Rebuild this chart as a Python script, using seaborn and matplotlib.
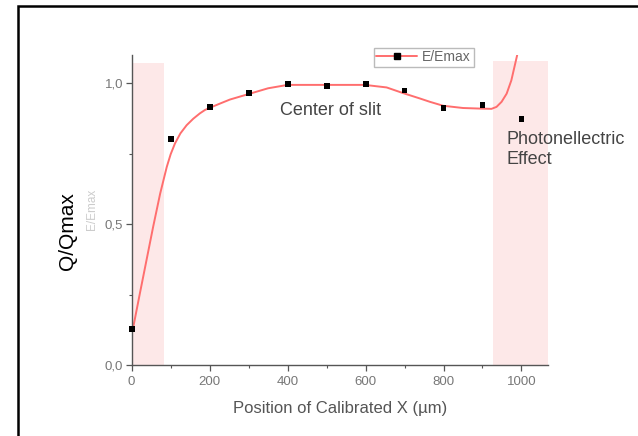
import matplotlib
matplotlib.use("Agg")
import matplotlib.pyplot as plt
from matplotlib.patches import Rectangle
from matplotlib.ticker import FixedLocator
import pandas as pd
import seaborn as sns

# Measured normalised signal along the slit
position_um = [0, 100, 200, 300, 400, 500, 600, 700, 800, 900, 1000]
e_over_emax = [0.127, 0.802, 0.915, 0.966, 0.998, 0.990, 0.997, 0.974, 0.913, 0.922, 0.874]

# Smooth trend curve through the measurements
trend_x = [3, 21, 38, 55, 73, 90, 100, 111, 125, 141, 158, 175, 188, 201, 227, 252, 301,
           350, 400, 500, 598, 654, 696, 739, 765, 799, 850, 893, 923, 936, 949, 962,
           974, 983, 989]
trend_y = [0.127, 0.254, 0.372, 0.490, 0.608, 0.703, 0.748, 0.786, 0.822, 0.851, 0.874,
           0.893, 0.905, 0.913, 0.928, 0.942, 0.962, 0.982, 0.994, 0.994, 0.994, 0.985,
           0.965, 0.946, 0.934, 0.920, 0.912, 0.910, 0.909, 0.916, 0.934, 0.963, 1.010,
           1.064, 1.100]

# Edge regions of the slit
edge_regions = [(0, 83, 1.072), (926, 1067, 1.079)]

x_major = [0, 200, 400, 600, 800, 1000]
x_minor = [100, 300, 500, 700, 900]
y_major = [0.0, 0.5, 1.0]
y_major_labels = ["0,0", "0,5", "1,0"]
y_minor = [0.25, 0.75]

sns.set_style("white")
plt.rcParams["font.family"] = ["Liberation Sans", "DejaVu Sans"]

fig = plt.figure(figsize=(6.38, 4.36), dpi=100)
ax = fig.add_axes([0.2064, 0.1628, 0.6525, 0.711])

for x0, x1, top in edge_regions:
    ax.add_patch(Rectangle((x0, 0), x1 - x0, top, facecolor="#fde8e8",
                           edgecolor="none", zorder=0))

trend = pd.DataFrame({"x": trend_x, "y": trend_y})
pts = pd.DataFrame({"x": position_um, "y": e_over_emax})

sns.lineplot(data=trend, x="x", y="y", sort=False, ax=ax, color="#ff6e6e",
             linewidth=1.4, zorder=2, legend=False)
sns.scatterplot(data=pts, x="x", y="y", ax=ax, color="black", marker="s", s=18,
                edgecolor="none", zorder=3, clip_on=False, legend=False)

ax.set_xlim(0, 1068)
ax.set_ylim(0, 1.1)
ax.xaxis.set_major_locator(FixedLocator(x_major))
ax.xaxis.set_minor_locator(FixedLocator(x_minor))
ax.yaxis.set_major_locator(FixedLocator(y_major))
ax.yaxis.set_minor_locator(FixedLocator(y_minor))
ax.set_yticklabels(y_major_labels)
ax.set_xticklabels([str(v) for v in x_major])

for side in ("top", "right"):
    ax.spines[side].set_visible(False)
for side in ("left", "bottom"):
    ax.spines[side].set_color("#555555")
    ax.spines[side].set_linewidth(1.0)

ax.tick_params(which="major", direction="out", length=4, width=0.9, color="#555555",
               labelsize=9.5, labelcolor="#777777", pad=2)
ax.tick_params(axis="x", which="major", pad=4)
ax.tick_params(which="minor", direction="out", length=2.5, width=0.8, color="#555555")
ax.tick_params(axis="x", which="both", bottom=True)
ax.tick_params(axis="y", which="both", left=True)

ax.set_xlabel("Position of Calibrated X (\u00b5m)", fontsize=12, color="#555555",
              labelpad=9)
ax.set_ylabel("")
fig.text(67 / 638, 1 - 231 / 436, "Q/Qmax", rotation=90, fontsize=15,
         color="black", ha="center", va="center")
fig.text(92 / 638, 1 - 209 / 436, "E/Emax", rotation=90, fontsize=8.5,
         color="#cccccc", ha="center", va="center")

ax.annotate("Center of slit", xy=((280 - 131.7) / 0.39, (365 - 110) / 282),
            fontsize=13, color="#444444", ha="left", va="center")
ax.annotate("Photonellectric\nEffect", xy=((507 - 131.7) / 0.39, (365 - 149) / 282),
            fontsize=13, color="#444444", ha="left", va="center",
            linespacing=1.25, annotation_clip=False)

leg_handle = plt.Line2D([], [], color="#ff6e6e", linewidth=1.4, marker="s",
                        markersize=4.5, markerfacecolor="black", markeredgecolor="black")
leg = ax.legend([leg_handle], ["E/Emax"], loc="upper left",
                bbox_to_anchor=((374 - 131.7) / 416.3, (365 - 47.5) / 310),
                fontsize=10, frameon=True, fancybox=False, handlelength=2.9,
                handletextpad=0.4, borderpad=0.18, borderaxespad=0)
leg.get_frame().set_edgecolor("#aaaaaa")
leg.get_frame().set_linewidth(1.0)
for t in leg.get_texts():
    t.set_color("#666666")

fig.patches.append(Rectangle((18 / 638, -0.1), 1.2, 1 - 6 / 436 + 0.1,
                             transform=fig.transFigure, fill=False,
                             edgecolor="black", linewidth=1.8))

fig.savefig("out.png", dpi=100)
